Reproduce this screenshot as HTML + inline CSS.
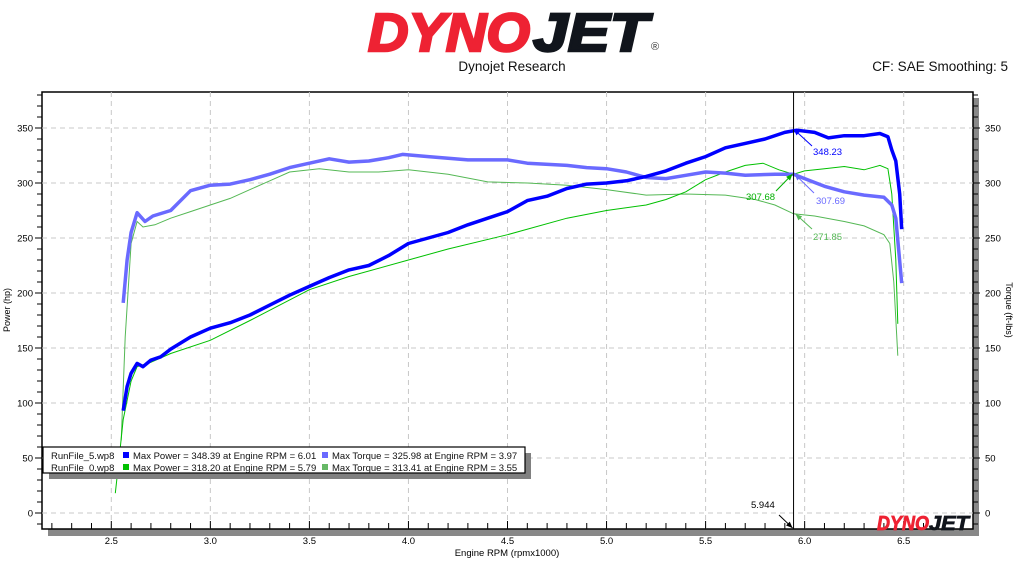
<!DOCTYPE html>
<html><head><meta charset="utf-8"><style>
html,body{margin:0;padding:0;background:#fff;width:1024px;height:576px;overflow:hidden}
svg{display:block;font-family:"Liberation Sans",sans-serif}
</style></head><body>
<svg id="s" width="1024" height="576" viewBox="0 0 1024 576" xmlns="http://www.w3.org/2000/svg">
<text x="368" y="51" font-size="54" font-weight="bold" font-style="italic" fill="#ee2233" stroke="#ee2233" stroke-width="2.5" textLength="162" lengthAdjust="spacingAndGlyphs">DYNO</text>
<text x="533" y="51" font-size="54" font-weight="bold" font-style="italic" fill="#11151c" stroke="#11151c" stroke-width="2.5" textLength="115" lengthAdjust="spacingAndGlyphs">JET</text>
<text x="651" y="50" font-size="11" fill="#333">®</text>
<text x="512" y="71" font-size="13.5" text-anchor="middle" fill="#111">Dynojet Research</text>
<text x="1008" y="71" font-size="13.5" text-anchor="end" fill="#111">CF: SAE Smoothing: 5</text>
<rect x="48" y="529" width="931" height="7" fill="#888"/>
<rect x="973" y="98" width="6" height="438" fill="#888"/>
<rect x="42" y="92" width="931" height="437" fill="#fff" stroke="#000" stroke-width="1.5"/>
<g id="g"></g>
<text x="10" y="310" font-size="9" transform="rotate(-90 10 310)" text-anchor="middle">Power (hp)</text>
<text x="1006" y="310" font-size="9" transform="rotate(90 1006 310)" text-anchor="middle">Torque (ft-lbs)</text>
<text x="507" y="556" font-size="9.5" text-anchor="middle">Engine RPM (rpmx1000)</text>
<text x="877" y="530" font-size="20" font-weight="bold" font-style="italic" fill="#ee2233" stroke="#ee2233" stroke-width="0.8" textLength="52" lengthAdjust="spacingAndGlyphs">DYNO</text>
<text x="929" y="530" font-size="20" font-weight="bold" font-style="italic" fill="#11151c" stroke="#11151c" stroke-width="0.8" textLength="40" lengthAdjust="spacingAndGlyphs">JET</text>
<rect x="49" y="453" width="482" height="26" fill="#808080"/>
<rect x="43" y="447" width="482" height="26" fill="#fff" stroke="#000" stroke-width="1.2"/>
<g font-size="9.5" fill="#111">
<text x="51" y="459">RunFile_5.wp8</text><rect x="123" y="452" width="6" height="6" fill="#0000ff"/><text x="133" y="459">Max Power = 348.39 at Engine RPM = 6.01</text><rect x="322" y="452" width="6" height="6" fill="#6a6aff"/><text x="332" y="459">Max Torque = 325.98 at Engine RPM = 3.97</text>
<text x="51" y="471">RunFile_0.wp8</text><rect x="123" y="464" width="6" height="6" fill="#00c000"/><text x="133" y="471">Max Power = 318.20 at Engine RPM = 5.79</text><rect x="322" y="464" width="6" height="6" fill="#66b866"/><text x="332" y="471">Max Torque = 313.41 at Engine RPM = 3.55</text>
</g>
</svg>
<script>
var g=document.getElementById('g'),NS='http://www.w3.org/2000/svg';
function X(r){return 111.3+(r-2.5)*198.1}
function Y(v){return 513-v*1.1}
function el(t,a,txt){var e=document.createElementNS(NS,t);for(var k in a)e.setAttribute(k,a[k]);if(txt!=null)e.textContent=txt;g.appendChild(e);return e}
for(var v=0;v<=350;v+=50){el('line',{x1:42,x2:973,y1:Y(v),y2:Y(v),stroke:'#c8c8c8','stroke-dasharray':'5,4'});
 el('text',{x:33,y:Y(v)+3.5,'font-size':9.5,'text-anchor':'end'},v);el('text',{x:985,y:Y(v)+3.5,'font-size':9.5},v);}
for(var r=2.5;r<=6.51;r+=0.5){el('line',{x1:X(r),x2:X(r),y1:92,y2:529,stroke:'#c8c8c8','stroke-dasharray':'5,4'});
 el('text',{x:X(r),y:544,'font-size':9.5,'text-anchor':'middle'},r.toFixed(1));}
for(var v=-10;v<=380;v+=10){var m=v%50==0;el('line',{x1:m?35:37,x2:42,y1:Y(v),y2:Y(v),stroke:'#000'});el('line',{x1:973,x2:m?980:978,y1:Y(v),y2:Y(v),stroke:'#000'});}
for(var r=2.2;r<=6.85;r+=0.1){var xx=X(r);if(xx>44&&xx<972)el('line',{x1:xx,x2:xx,y1:(Math.abs((r*10)%5)<0.01||Math.abs((r*10)%5-5)<0.01)?521:523,y2:529,stroke:'#000'});}
function P(d){return d.map(function(p,i){return (i?'L':'M')+X(p[0]).toFixed(1)+','+Y(p[1]).toFixed(1)}).join('')}
var gt=[[2.55,66],[2.57,160],[2.6,245],[2.63,265],[2.66,260],[2.72,262],[2.8,268],[2.9,274],[3.0,280],[3.1,286],[3.2,294],[3.3,302],[3.4,310],[3.55,313],[3.7,310],[3.85,310],[4.0,312],[4.2,308],[4.4,301],[4.6,300],[4.8,298],[5.0,294],[5.2,289],[5.4,290],[5.6,289],[5.75,285],[5.85,280],[5.944,272],[6.05,270],[6.2,265],[6.3,261],[6.4,253],[6.43,245],[6.45,210],[6.47,143]];
var gp=[[2.52,18],[2.54,50],[2.56,85],[2.6,120],[2.63,133],[2.7,137],[2.8,145],[3.0,157],[3.2,175],[3.5,203],[3.7,215],[4.0,230],[4.2,240],[4.5,253],[4.8,268],[5.0,275],[5.2,280],[5.3,285],[5.4,292],[5.5,303],[5.6,310],[5.7,316],[5.79,318],[5.87,312],[5.944,308],[6.0,311],[6.1,313],[6.2,315],[6.3,312],[6.38,316],[6.42,313],[6.44,290],[6.46,230],[6.47,172]];
var bt=[[2.56,191],[2.58,230],[2.6,255],[2.63,273],[2.67,265],[2.71,270],[2.8,275],[2.9,293],[3.0,298],[3.1,299],[3.2,303],[3.3,308],[3.4,314],[3.5,318],[3.6,322],[3.7,319],[3.8,320],[3.9,323],[3.97,326],[4.1,324],[4.3,321],[4.5,321],[4.6,318],[4.8,316],[4.9,314],[5.0,313],[5.1,310],[5.2,305],[5.3,304],[5.4,307],[5.5,310],[5.6,309],[5.7,307],[5.85,308],[5.944,308],[6.0,304],[6.1,297],[6.2,292],[6.3,289],[6.4,287],[6.44,280],[6.46,268],[6.49,209]];
var bp=[[2.56,93],[2.58,115],[2.6,127],[2.63,136],[2.66,133],[2.7,139],[2.75,142],[2.8,149],[2.9,160],[3.0,168],[3.1,173],[3.2,180],[3.3,189],[3.4,198],[3.5,206],[3.6,214],[3.7,221],[3.8,225],[3.9,234],[4.0,245],[4.1,250],[4.2,255],[4.3,262],[4.4,268],[4.5,274],[4.6,284],[4.7,288],[4.8,295],[4.9,299],[5.0,300],[5.1,302],[5.2,306],[5.3,311],[5.4,318],[5.5,324],[5.6,332],[5.7,336],[5.8,340],[5.9,346],[5.96,348],[6.05,346],[6.12,341],[6.2,343],[6.3,343],[6.38,345],[6.42,342],[6.44,330],[6.46,320],[6.48,290],[6.49,258]];
el('path',{d:P(gt),fill:'none',stroke:'#55b855','stroke-width':1});
el('path',{d:P(gp),fill:'none',stroke:'#00c000','stroke-width':1});
el('path',{d:P(bt),fill:'none',stroke:'#6a6aff','stroke-width':3.5,'stroke-linejoin':'round'});
el('path',{d:P(bp),fill:'none',stroke:'#0000ff','stroke-width':3.5,'stroke-linejoin':'round'});
var cx=X(5.944);
el('line',{x1:cx,x2:cx,y1:92,y2:529,stroke:'#000','stroke-width':1});
function arr(x1,y1,x2,y2,c){el('line',{x1:x1,y1:y1,x2:x2,y2:y2,stroke:c,'stroke-width':1});var a=Math.atan2(y2-y1,x2-x1),L=7;
 el('path',{d:'M'+x2+','+y2+'L'+(x2-L*Math.cos(a-0.4))+','+(y2-L*Math.sin(a-0.4))+'L'+(x2-L*Math.cos(a+0.4))+','+(y2-L*Math.sin(a+0.4))+'Z',fill:c});}
arr(812,146,cx,129,'#0000ff');el('text',{x:813,y:155,'font-size':9.5,fill:'#0000ff'},'348.23');
arr(776,191,cx-1,174,'#00b000');el('text',{x:746,y:200,'font-size':9.5,fill:'#00b000'},'307.68');
arr(814,193,cx+1,174,'#6a6aff');el('text',{x:816,y:204,'font-size':9.5,fill:'#6a6aff'},'307.69');
arr(812,229,cx+2,214,'#55b855');el('text',{x:813,y:240,'font-size':9.5,fill:'#55b855'},'271.85');
arr(779,515,cx-1,528,'#000');el('text',{x:751,y:508,'font-size':9.5},'5.944');
</script>
</body></html>
